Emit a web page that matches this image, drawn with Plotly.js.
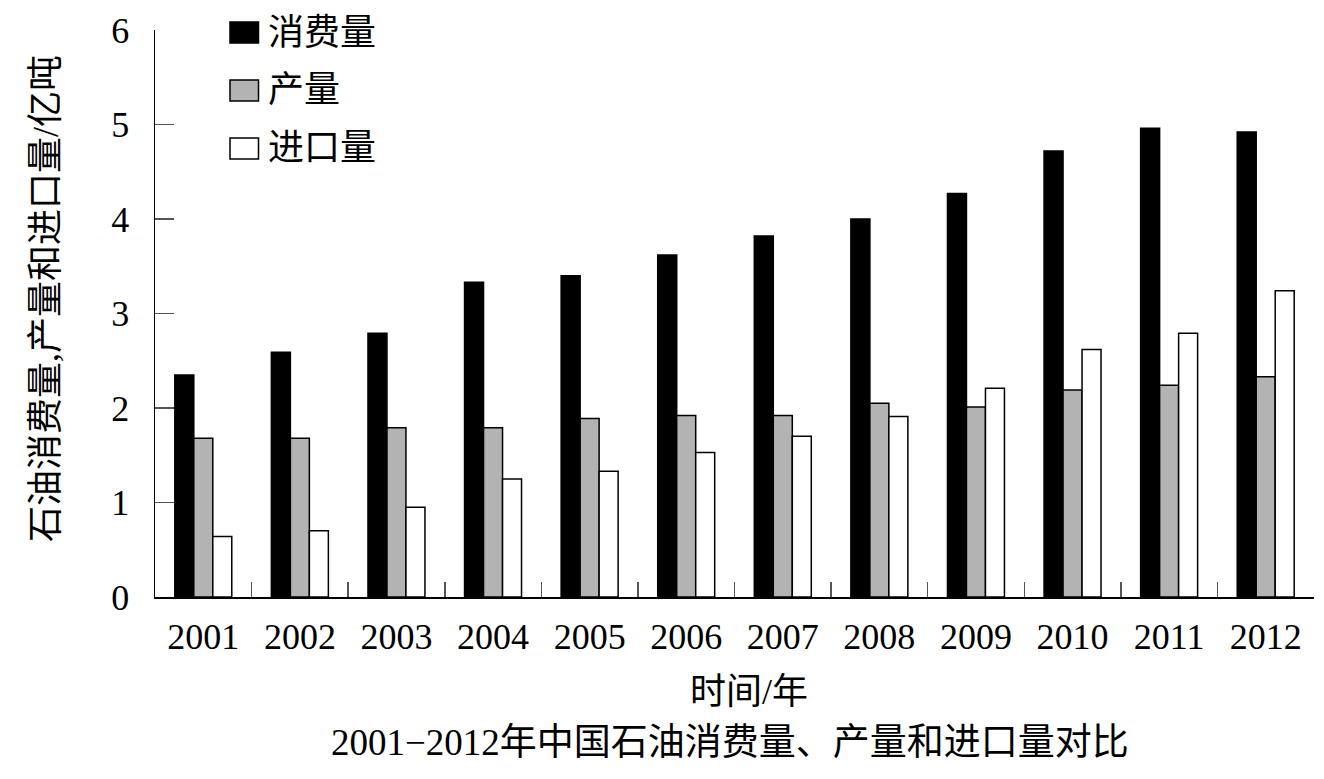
<!DOCTYPE html>
<html>
<head>
<meta charset="utf-8">
<script src="https://cdn.plot.ly/plotly-3.0.1.min.js"></script>
<style>html,body{margin:0;padding:0;background:#fff;}#chart{width:1324px;height:779px;}</style>
</head>
<body>
<div id="chart"></div>
<script>
var years = ['2001','2002','2003','2004','2005','2006','2007','2008','2009','2010','2011','2012'];
var seriesNames = ['消费量','产量','进口量'];
var consumption = [2.35, 2.59, 2.79, 3.33, 3.40, 3.62, 3.82, 4.00, 4.27, 4.72, 4.96, 4.92];
var production = [1.68, 1.68, 1.79, 1.79, 1.89, 1.92, 1.92, 2.05, 2.01, 2.19, 2.24, 2.33];
var imports = [0.64, 0.70, 0.95, 1.25, 1.33, 1.53, 1.70, 1.91, 2.21, 2.62, 2.79, 3.24];
var yTickVals = [0, 1, 2, 3, 4, 5, 6];
var xTitle = '时间/年';
var yTitle = '石油消费量,产量和进口量/亿吨';
var chartTitle = '2001−2012年中国石油消费量、产量和进口量对比';

var FONT = "'Liberation Serif', 'Noto Sans CJK SC', serif";
var fills = ['#000000', '#b3b3b3', '#ffffff'];
var seriesData = [consumption, production, imports];

var traces = seriesData.map(function (vals, i) {
  return {
    type: 'bar',
    name: seriesNames[i],
    x: years,
    y: vals,
    marker: {color: fills[i], line: {color: '#000', width: 1.5}},
    showlegend: false,
    hoverinfo: 'x+y+name'
  };
});

// custom legend (shapes + text), positioned in paper coords
var L = 155, R = 1314, T = 30, B = 597;
function px(x) { return (x - L) / (R - L); }
function py(y) { return (B - y) / (B - T); }
var legendRows = [[22, 43, 33], [80, 101, 90], [138, 159, 148]];
var shapes = [];
var annotations = [];
seriesNames.forEach(function (n, i) {
  var r = legendRows[i];
  shapes.push({type: 'rect', xref: 'paper', yref: 'paper',
    x0: px(230), x1: px(258.5), y0: py(r[1]), y1: py(r[0]),
    fillcolor: fills[i], line: {color: '#000', width: 1.5}});
  annotations.push({xref: 'paper', yref: 'paper', x: px(266), y: py(r[2]),
    xanchor: 'left', yanchor: 'middle', showarrow: false, text: n,
    font: {family: FONT, size: 36, color: '#000'}});
});
annotations.push({xref: 'paper', yref: 'paper', x: px(749), y: py(692),
  xanchor: 'center', yanchor: 'middle', showarrow: false, text: xTitle,
  font: {family: FONT, size: 36, color: '#000'}});
annotations.push({xref: 'paper', yref: 'paper', x: px(729.5), y: py(743),
  xanchor: 'center', yanchor: 'middle', showarrow: false, text: chartTitle,
  font: {family: FONT, size: 37, color: '#000'}});
annotations.push({xref: 'paper', yref: 'paper', x: px(46), y: py(299),
  xanchor: 'center', yanchor: 'middle', showarrow: false, text: yTitle, textangle: -90,
  font: {family: FONT, size: 36, color: '#000'}});

var layout = {
  width: 1324, height: 779,
  margin: {l: L, r: 1324 - R, t: T, b: 779 - B, pad: 0},
  paper_bgcolor: '#fff', plot_bgcolor: '#fff',
  barmode: 'group', bargap: 0.41, bargroupgap: 0,
  font: {family: FONT, size: 36, color: '#000'},
  xaxis: {
    type: 'category', range: [-0.5, 11.5],
    showline: true, linecolor: '#000', linewidth: 1.5,
    ticks: 'inside', ticklen: 15, tickwidth: 1.5, tickcolor: '#555',
    tickson: 'boundaries', showgrid: false, zeroline: false,
    tickfont: {family: FONT, size: 36, color: '#000'},
    ticklabelstandoff: 7, fixedrange: true
  },
  yaxis: {
    range: [0, 6], tickvals: yTickVals, ticktext: yTickVals.map(String),
    showline: true, linecolor: '#000', linewidth: 1.5,
    ticks: 'inside', ticklen: 19, tickwidth: 1.5, tickcolor: '#555',
    showgrid: false, zeroline: false,
    tickfont: {family: FONT, size: 36, color: '#000'},
    ticklabelstandoff: 17, fixedrange: true
  },
  shapes: shapes,
  annotations: annotations,
  showlegend: false
};

Plotly.newPlot('chart', traces, layout, {displayModeBar: false, staticPlot: true});
</script>
</body>
</html>
